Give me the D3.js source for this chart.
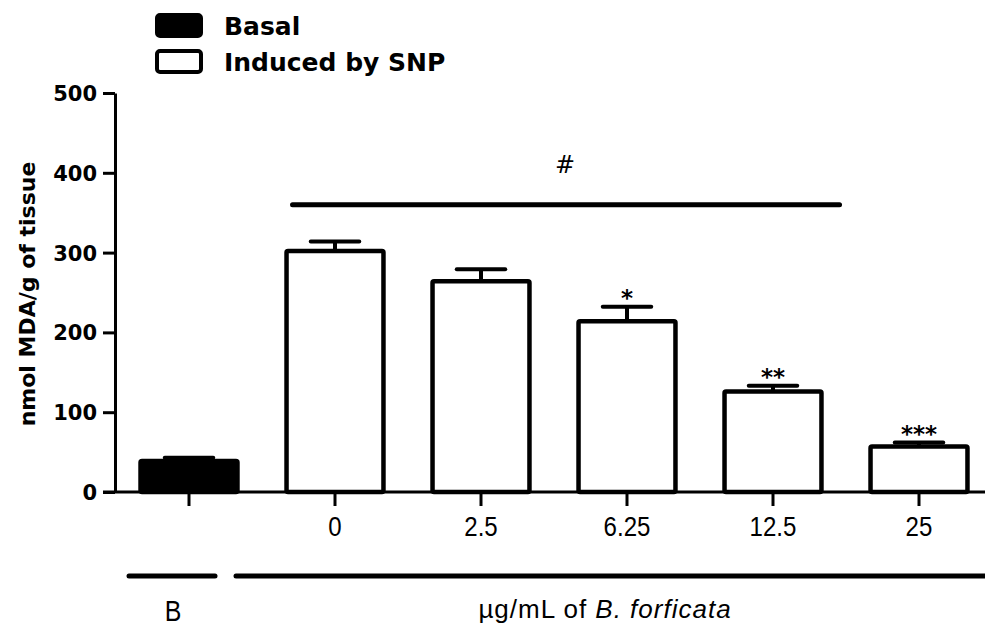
<!DOCTYPE html>
<html>
<head>
<meta charset="utf-8">
<script src="https://cdn.jsdelivr.net/npm/d3@7"></script>
<style>
    body { margin: 0; background: #fff; }
    svg { display: block; }
</style>
</head>
<body>
<div id="chart"></div>
<script>
(function() {
    'use strict';

    // values
    var groups = ["B", "0", "2.5", "6.25", "12.5", "25"];
    var mda = [39, 302, 264, 214, 126, 57];
    var sem = [4, 12, 15, 18, 7, 5];
    var stars = ["", "", "", "*", "**", "***"];
    var yTicks = [0, 100, 200, 300, 400, 500];
    var legendItems = ["Basal", "Induced by SNP"];

    var width = 985,
        height = 630,
        bold = "'DejaVu Sans', sans-serif",
        plain = "'Liberation Sans', Arial, sans-serif";

    var data = groups.map(function(g, i) {
        return { group: g, mean: mda[i], err: sem[i], mark: stars[i], basal: i === 0 };
    });

    var svg = d3.select("#chart").append("svg")
        .attr("width", width)
        .attr("height", height);

    var x = d3.scaleBand()
        .domain(groups)
        .range([116, 992])
        .paddingInner(0.336)
        .paddingOuter(0.168);

    var y = d3.scaleLinear()
        .domain([0, 500])
        .range([492, 93]);

    // y axis
    var yAxis = svg.append("g")
        .attr("transform", "translate(115,0)")
        .call(d3.axisLeft(y).tickValues(yTicks).tickSize(12).tickSizeOuter(0).tickPadding(6));

    yAxis.select(".domain").attr("stroke-width", 3);
    yAxis.selectAll(".tick line").attr("stroke-width", 3);
    yAxis.selectAll(".tick text")
        .attr("font-family", bold)
        .attr("font-weight", "bold")
        .attr("font-size", 21)
        .attr("dy", "0.36em")
        .attr("fill", "#000");

    svg.append("text")
        .attr("transform", "translate(35,294) rotate(-90)")
        .attr("text-anchor", "middle")
        .attr("font-family", bold)
        .attr("font-weight", "bold")
        .attr("font-size", 22)
        .text("nmol MDA/g of tissue");

    // x axis
    svg.append("line")
        .attr("x1", 103)
        .attr("x2", width)
        .attr("y1", y(0))
        .attr("y2", y(0))
        .attr("stroke", "#000")
        .attr("stroke-width", 3);

    var xAxis = svg.append("g")
        .attr("transform", "translate(0," + y(0) + ")")
        .call(d3.axisBottom(x).tickSize(14).tickPadding(10)
            .tickFormat(function(d) { return d === "B" ? "" : d; }));

    xAxis.select(".domain").remove();
    xAxis.selectAll(".tick line").attr("stroke-width", 3);
    xAxis.selectAll(".tick text")
        .attr("font-family", plain)
        .attr("font-size", 28)
        .attr("transform", "scale(0.86,1)")
        .attr("fill", "#000");

    // bars
    var bar = svg.selectAll(".bar")
        .data(data)
      .enter().append("g")
        .attr("class", "bar");

    bar.append("rect")
        .attr("x", function(d) { return x(d.group); })
        .attr("y", function(d) { return y(d.mean); })
        .attr("width", x.bandwidth())
        .attr("height", function(d) { return y(0) - y(d.mean); })
        .attr("rx", 1.5)
        .attr("fill", function(d) { return d.basal ? "#000" : "#fff"; })
        .attr("stroke", "#000")
        .attr("stroke-width", 4.5);

    bar.append("line")
        .attr("x1", function(d) { return x(d.group) + x.bandwidth() / 2; })
        .attr("x2", function(d) { return x(d.group) + x.bandwidth() / 2; })
        .attr("y1", function(d) { return y(d.mean); })
        .attr("y2", function(d) { return y(d.mean + d.err); })
        .attr("stroke", "#000")
        .attr("stroke-width", 4);

    bar.append("line")
        .attr("x1", function(d) { return x(d.group) + x.bandwidth() * 0.25; })
        .attr("x2", function(d) { return x(d.group) + x.bandwidth() * 0.75; })
        .attr("y1", function(d) { return y(d.mean + d.err); })
        .attr("y2", function(d) { return y(d.mean + d.err); })
        .attr("stroke", "#000")
        .attr("stroke-width", 4)
        .attr("stroke-linecap", "round");

    bar.append("text")
        .attr("x", function(d) { return x(d.group) + x.bandwidth() / 2; })
        .attr("y", function(d) { return y(d.mean + d.err) - 1; })
        .attr("text-anchor", "middle")
        .attr("font-family", bold)
        .attr("font-weight", "bold")
        .attr("font-size", 23)
        .text(function(d) { return d.mark; });

    // # versus basal
    svg.append("line")
        .attr("x1", x("0") + 6)
        .attr("x2", x("25") - 31)
        .attr("y1", y(360))
        .attr("y2", y(360))
        .attr("stroke", "#000")
        .attr("stroke-width", 5)
        .attr("stroke-linecap", "round");

    svg.append("text")
        .attr("x", 565)
        .attr("y", y(400))
        .attr("text-anchor", "middle")
        .attr("font-family", bold)
        .attr("font-size", 24)
        .text("#");

    // group labels under the axis
    svg.append("line")
        .attr("x1", 129).attr("x2", 215)
        .attr("y1", 576).attr("y2", 576)
        .attr("stroke", "#000")
        .attr("stroke-width", 5)
        .attr("stroke-linecap", "round");

    svg.append("line")
        .attr("x1", 236).attr("x2", width + 5)
        .attr("y1", 576).attr("y2", 576)
        .attr("stroke", "#000")
        .attr("stroke-width", 5)
        .attr("stroke-linecap", "round");

    svg.append("text")
        .attr("transform", "translate(173,621) scale(0.86,1)")
        .attr("text-anchor", "middle")
        .attr("font-family", plain)
        .attr("font-size", 29)
        .text("B");

    var sub = svg.append("text")
        .attr("x", 605)
        .attr("y", 618)
        .attr("text-anchor", "middle")
        .attr("font-family", plain)
        .attr("font-size", 26)
        .attr("letter-spacing", 1);
    sub.append("tspan").text("\u00b5g/mL of ");
    sub.append("tspan").attr("font-style", "italic").text("B. forficata");

    // legend
    var legend = svg.selectAll(".legend")
        .data(legendItems)
      .enter().append("g")
        .attr("class", "legend")
        .attr("transform", function(d, i) { return "translate(157," + (15 + i * 36) + ")"; });

    legend.append("rect")
        .attr("width", 44)
        .attr("height", 21)
        .attr("rx", 3)
        .attr("fill", function(d, i) { return i === 0 ? "#000" : "#fff"; })
        .attr("stroke", "#000")
        .attr("stroke-width", 4);

    legend.append("text")
        .attr("x", 67)
        .attr("y", 20)
        .attr("font-family", bold)
        .attr("font-weight", "bold")
        .attr("font-size", 25)
        .text(function(d) { return d; });

})();
</script>
</body>
</html>
